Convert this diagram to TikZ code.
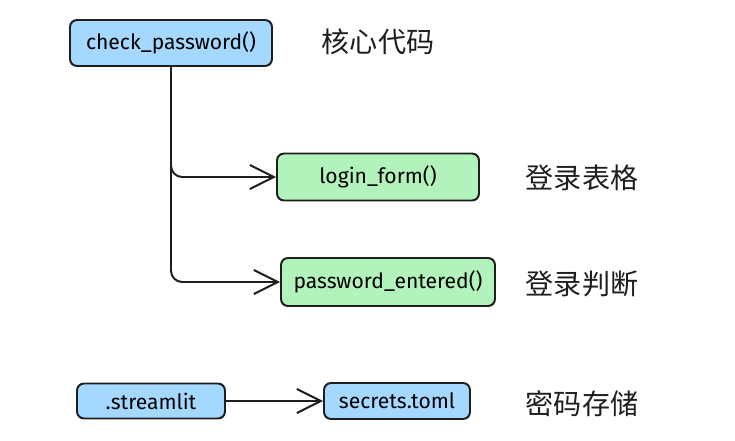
\documentclass[tikz,border=0pt]{standalone}
\usepackage{fontspec}
\setmainfont{Fira Sans}
\newfontfamily\cjk{Noto Sans CJK SC}
\usepackage{xcolor}
\usepackage{tikz}
\usetikzlibrary{arrows.meta,positioning}
\definecolor{inkdark}{HTML}{1E1E1E}
\definecolor{softblue}{HTML}{A5D8FF}
\definecolor{softgreen}{HTML}{B2F2BB}
\tikzset{
  filebox/.style={draw=inkdark, line width=1.4pt, rounded corners=5pt, align=center, fill=softblue, inner sep=4pt, font=\fontsize{15}{17}\selectfont},
  funcbox/.style={draw=inkdark, line width=1.4pt, rounded corners=5pt, align=center, fill=softgreen, inner sep=4pt, font=\fontsize{15}{17}\selectfont},
  note/.style={font=\cjk\fontsize{20}{22}\selectfont, text=inkdark},
  arrow/.style={-{Straight Barb[length=6mm, width=6mm, line width=1.4pt]}, line width=1.4pt, draw=inkdark}
}

\begin{document}
\begin{tikzpicture}
  \useasboundingbox (0,0) rectangle (18.375,-11.025);
  \node[filebox, minimum width=5.05cm, minimum height=1.15cm] (check) at (4.275,-1.075) {check\_password()};
  \node[funcbox, minimum width=5.05cm, minimum height=1.175cm] (login) at (9.45,-4.425) {login\_form()};
  \node[funcbox, minimum width=5.35cm, minimum height=1.2cm] (entered) at (9.7,-7.05) {password\_entered()};
  \node[filebox, minimum width=3.7cm, minimum height=0.875cm] (streamlit) at (3.775,-10.025) {.streamlit};
  \node[filebox, minimum width=3.65cm, minimum height=0.9cm] (secrets) at (9.925,-10.025) {secrets.toml};

  \node[note] (core) at (9.45,-1.05) {核心代码};
  \node[note] (form) at (14.55,-4.45) {登录表格};
  \node[note] (judge) at (14.55,-7.1) {登录判断};
  \node[note] (store) at (14.55,-10.1) {密码存储};

  \draw[arrow, rounded corners=8pt] (check.south) |- (login.west);
  \draw[arrow, rounded corners=8pt] (check.south) |- (entered.west);
  \draw[arrow] (streamlit) -- (secrets);
\end{tikzpicture}
\end{document}
